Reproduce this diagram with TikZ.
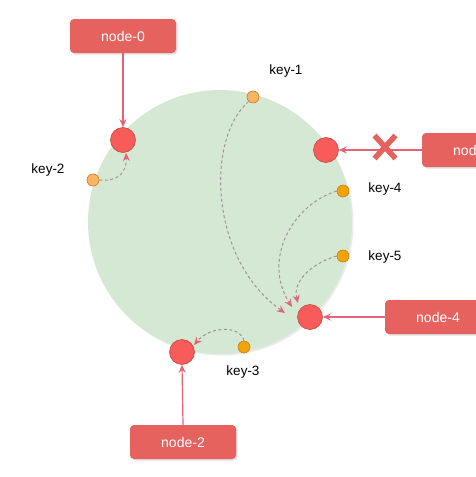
\documentclass[tikz,border=0pt]{standalone}
\usepackage{fontspec}
\setmainfont{Liberation Sans}
\usetikzlibrary{arrows.meta,shadows,calc}
\definecolor{ringgreen}{RGB}{213,232,212}
\definecolor{boxred}{RGB}{229,98,95}
\definecolor{nodered}{RGB}{247,92,90}
\definecolor{nodeedge}{RGB}{196,72,60}
\definecolor{linkpink}{RGB}{226,100,118}
\definecolor{keylight}{RGB}{247,180,100}
\definecolor{keydark}{RGB}{240,163,10}
\definecolor{keyedge}{RGB}{205,125,20}
\definecolor{dashgray}{RGB}{155,150,150}
\tikzset{
  serverbox/.style={rectangle, rounded corners=4pt, fill=boxred, draw=none,
    minimum width=106pt, minimum height=34pt, text=white, font=\fontsize{14}{16}\selectfont,
    drop shadow={shadow xshift=1.5pt, shadow yshift=-1.5pt, opacity=0.25}},
  ringnode/.style={circle, fill=nodered, draw=nodeedge, line width=0.6pt, minimum size=25pt, inner sep=0pt},
  keylt/.style={circle, fill=keylight, draw=keyedge, line width=0.6pt, minimum size=12pt, inner sep=0pt},
  keydk/.style={circle, fill=keydark, draw=keyedge, line width=0.6pt, minimum size=12pt, inner sep=0pt},
  keylabel/.style={font=\fontsize{13.5}{16}\selectfont, text=black},
  solidlink/.style={draw=linkpink, line width=1.2pt, -{Stealth[length=8pt,width=7pt,color=linkpink]}},
  dashlink/.style={draw=dashgray, line width=1pt, dash pattern=on 3pt off 2.5pt,
    -{Stealth[length=8pt,width=7pt,color=linkpink]}},
}
\begin{document}
\begin{tikzpicture}[x=1pt,y=-1pt]
\useasboundingbox (0,0) rectangle (476,477);
\clip (0,0) rectangle (476,477);
\fill[white] (0,0) rectangle (476,477);
% ring
\fill[gray!30, opacity=0.5] (221.5,223.5) circle (132);
\fill[ringgreen] (220,222) circle (132);
% boxes
\node[serverbox] (b0) at (123,36) {node-0};
\node[serverbox] (b1) at (475,150) {node-1};
\node[serverbox] (b4) at (438,317) {node-4};
\node[serverbox] (b2) at (183,442) {node-2};
% ring nodes
\node[ringnode] (n0) at (123,140) {};
\node[ringnode] (n1) at (326,150) {};
\node[ringnode] (n4) at (310,317) {};
\node[ringnode] (n2) at (182,352) {};
% keys
\node[keylt] (k1) at (253,97) {};
\node[keylt] (k2) at (93,180) {};
\node[keydk] (k4) at (343,191) {};
\node[keydk] (k5) at (343,256) {};
\node[keydk] (k3) at (244,347) {};
% key labels
\node[keylabel] (l1) at (286,71) {key-1};
\node[keylabel] (l2) at (48,170) {key-2};
\node[keylabel] (l4) at (385,189) {key-4};
\node[keylabel] (l5) at (385,257) {key-5};
\node[keylabel] (l3) at (243,372) {key-3};
% arrow targets near node-4
\coordinate (t1) at (285,313);
\coordinate (t4) at (292,307);
\coordinate (t5) at (298,303);
\coordinate (t3) at (194,345);
\coordinate (t2) at (126,153);
% solid links
\draw[solidlink] (b0.south) -- (n0.north);
\draw[solidlink] (b1.west) -- (n1.east);
\draw[solidlink] (b4.west) -- (n4.east);
\draw[solidlink] (b2.north) -- (n2.south);
% cross
\coordinate (xc) at (385,147);
\draw[boxred, line width=5.5pt] ($(xc)+(-10.5,-11.5)$) -- ($(xc)+(10.5,11.5)$);
\draw[boxred, line width=5.5pt] ($(xc)+(10.5,-11.5)$) -- ($(xc)+(-10.5,11.5)$);
% dashed mapping curves
\draw[dashlink] (k2.east) .. controls (118,182) and (127,172) .. (t2);
\draw[dashlink] (k1.south west) .. controls (205,140) and (210,260) .. (t1);
\draw[dashlink] (k4.west) .. controls (292,205) and (262,260) .. (t4);
\draw[dashlink] (k5.west) .. controls (315,262) and (292,280) .. (t5);
\draw[dashlink] (k3.north) .. controls (240,325) and (210,326) .. (t3);
\end{tikzpicture}
\end{document}
